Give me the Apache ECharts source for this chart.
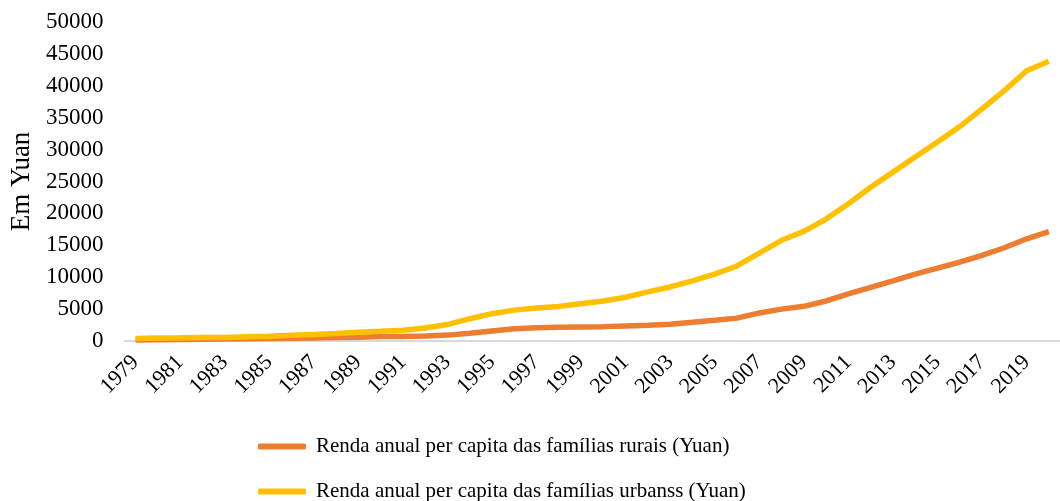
<!DOCTYPE html>
<html>
<head>
<meta charset="utf-8">
<script src="https://cdn.jsdelivr.net/npm/echarts@6/dist/echarts.min.js"></script>
<style>
html,body{margin:0;padding:0;background:#fff;}
#chart{width:1060px;height:501px;}
</style>
</head>
<body>
<div id="chart"></div>
<script>
const years = ['1979','1980','1981','1982','1983','1984','1985','1986','1987','1988','1989','1990','1991','1992','1993','1994','1995','1996','1997','1998','1999','2000','2001','2002','2003','2004','2005','2006','2007','2008','2009','2010','2011','2012','2013','2014','2015','2016','2017','2018','2019','2020'];
const rural = [160,191,223,270,310,355,398,424,463,545,602,686,709,784,922,1221,1578,1926,2090,2162,2210,2253,2366,2476,2622,2936,3255,3587,4400,4999,5435,6272,7394,8389,9430,10489,11422,12363,13432,14617,16021,17131];
const urban = [405,478,500,535,565,652,739,900,1002,1180,1374,1510,1701,2027,2577,3496,4283,4839,5160,5425,5854,6280,6860,7703,8472,9422,10493,11759,13786,15781,17175,19109,21500,24100,26467,28844,31195,33616,36396,39251,42359,43834];
const seriesNames = ['Renda anual per capita das famílias rurais (Yuan)','Renda anual per capita das famílias urbanss (Yuan)'];
const yAxisTitle = 'Em Yuan';

const font = '"Liberation Serif", "Times New Roman", serif';
const legendBase = {
  orient: 'vertical', left: 258, padding: 0, itemWidth: 48, itemHeight: 6, icon: 'roundRect',
  textStyle: {fontFamily: font, fontSize: 21, color: '#000', padding: [0,0,0,5]}
};
const chart = echarts.init(document.getElementById('chart'));
chart.setOption({
  animation: false,
  backgroundColor: '#fff',
  grid: {left: 124, right: -11, top: 22, bottom: 160},
  legend: [
    Object.assign({}, legendBase, {top: 436, data: [seriesNames[0]]}),
    Object.assign({}, legendBase, {top: 481, data: [seriesNames[1]]})
  ],
  xAxis: {
    type: 'category', data: years, boundaryGap: true,
    axisLine: {lineStyle: {color: '#d9d9d9', width: 2}},
    axisTick: {show: false},
    axisLabel: {interval: 1, rotate: 45, fontFamily: font, fontSize: 22, color: '#000', margin: 18}
  },
  yAxis: {
    type: 'value', min: 0, max: 50000, interval: 5000,
    name: yAxisTitle, nameLocation: 'middle', nameGap: 89,
    nameTextStyle: {fontFamily: font, fontSize: 27, color: '#000'},
    axisLine: {show: false}, axisTick: {show: false}, splitLine: {show: false},
    axisLabel: {fontFamily: font, fontSize: 23, color: '#000', margin: 21, formatter: function (v) { return String(v); }}
  },
  series: [
    {name: seriesNames[0], type: 'line', data: rural, symbol: 'none', color: '#ED7D31', lineStyle: {width: 5.5, color: '#ED7D31'}},
    {name: seriesNames[1], type: 'line', data: urban, symbol: 'none', color: '#FFC000', lineStyle: {width: 5.5, color: '#FFC000'}}
  ]
});
</script>
</body>
</html>
